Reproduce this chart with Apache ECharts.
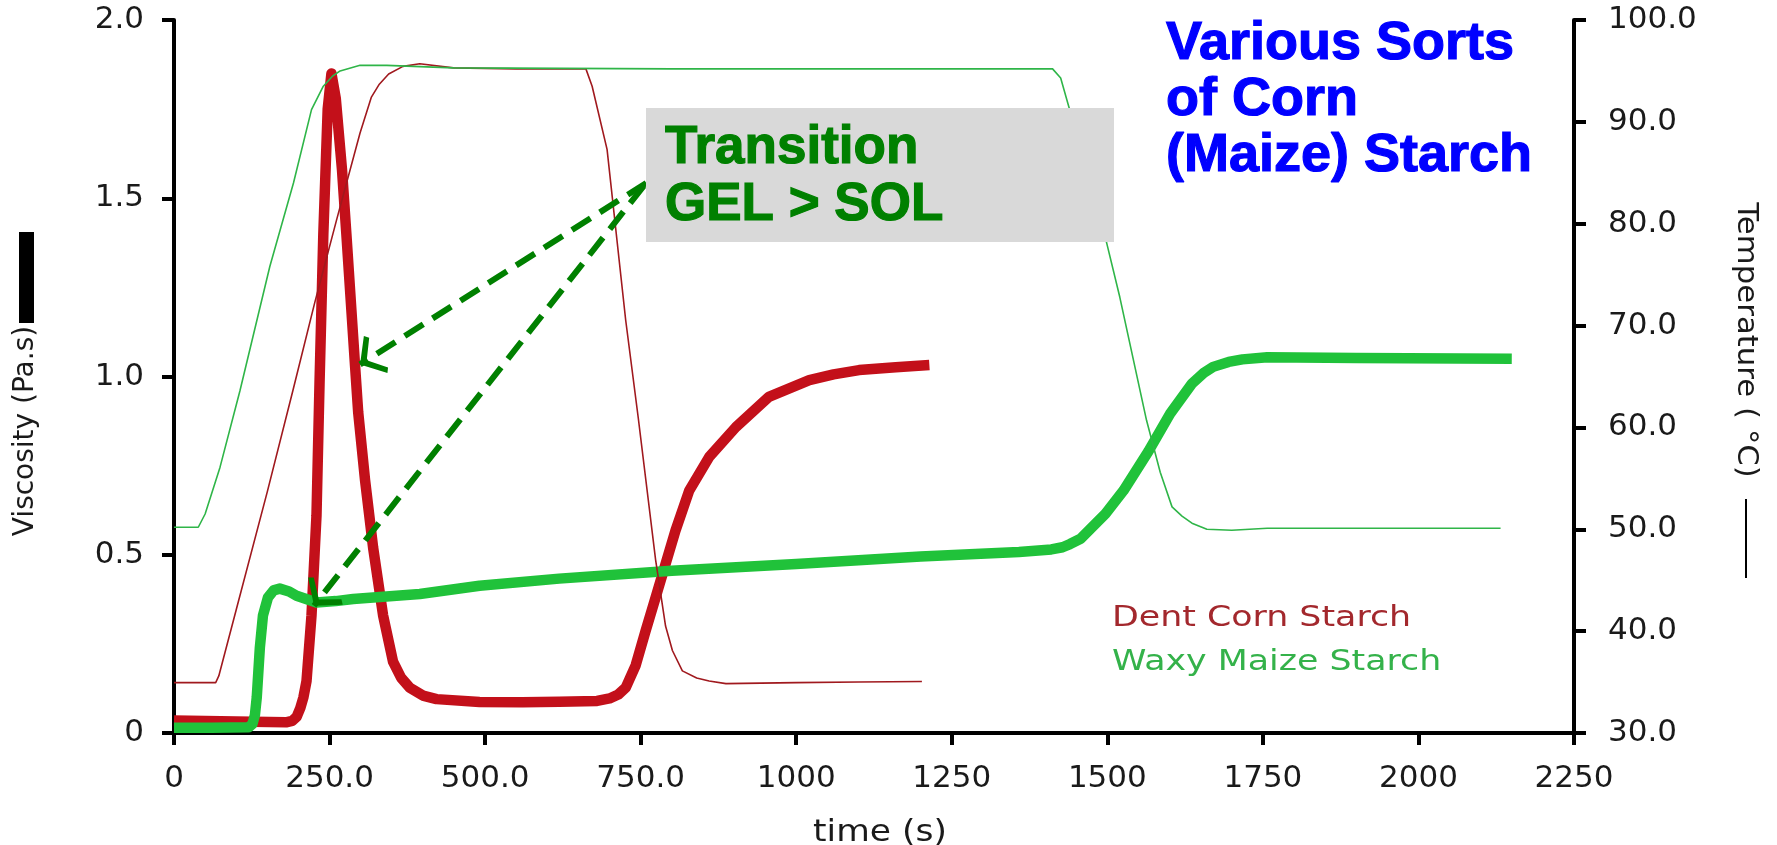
<!DOCTYPE html>
<html>
<head>
<meta charset="utf-8">
<script src="https://cdn.jsdelivr.net/npm/echarts@6/dist/echarts.min.js"></script>
<style>
  html, body { margin: 0; padding: 0; background: #fff; }
  #chart { width: 1777px; height: 845px; }
</style>
</head>
<body>
<div id="chart"></div>
<script>
  // viscosity (Pa.s) - thick lines, left axis
  var dentViscT = [0, 100, 180, 190, 197, 203, 208, 213, 221, 229, 234, 240, 247, 253, 260, 270, 277, 291, 296, 307, 320, 336, 352, 365, 379, 400, 422, 491, 560, 619, 680, 700, 714, 726, 742, 758, 774, 790, 806, 828, 860, 903, 956, 1021, 1060, 1101, 1160, 1214]
  var dentVisc = [0.035, 0.032, 0.030, 0.034, 0.045, 0.07, 0.10, 0.146, 0.33, 0.61, 0.99, 1.40, 1.75, 1.85, 1.78, 1.58, 1.40, 1.03, 0.90, 0.71, 0.52, 0.33, 0.20, 0.155, 0.127, 0.105, 0.095, 0.087, 0.086, 0.088, 0.09, 0.097, 0.108, 0.127, 0.19, 0.287, 0.38, 0.474, 0.568, 0.68, 0.774, 0.858, 0.943, 0.99, 1.006, 1.018, 1.026, 1.032]
  var waxyViscT = [0, 60, 120, 126, 130, 133, 138, 143, 151, 160, 170, 185, 197, 229, 260, 288, 395, 491, 619, 800, 1000, 1200, 1358, 1410, 1428, 1440, 1457, 1497, 1526, 1566, 1601, 1636, 1655, 1670, 1695, 1717, 1757, 1900, 2150]
  var waxyVisc = [0.015, 0.015, 0.016, 0.025, 0.05, 0.10, 0.24, 0.33, 0.38, 0.40, 0.405, 0.397, 0.385, 0.366, 0.37, 0.376, 0.39, 0.413, 0.433, 0.455, 0.474, 0.495, 0.508, 0.515, 0.521, 0.53, 0.545, 0.615, 0.68, 0.79, 0.896, 0.98, 1.01, 1.027, 1.041, 1.048, 1.054, 1.052, 1.05]

  // temperature (°C) - thin lines, right axis
  var dentTempT = [0, 67, 72, 100, 150, 191, 226, 261, 299, 317, 330, 345, 368, 395, 449, 550, 662, 672, 696, 726, 746, 774, 790, 801, 817, 840, 860, 887, 1000, 1100, 1202]
  var dentTemp = [34.95, 34.95, 35.6, 42.1, 53.7, 63.6, 72.2, 80.3, 88.9, 92.4, 93.7, 94.7, 95.45, 95.7, 95.3, 95.2, 95.2, 93.5, 87.3, 70.5, 61, 47, 40.5, 38.1, 36.1, 35.4, 35.1, 34.85, 34.95, 35.0, 35.05]
  var waxyTempT = [0, 39, 50, 74, 106, 154, 192, 221, 240, 255, 267, 299, 342, 449, 800, 1200, 1412, 1425, 1438, 1470, 1499, 1520, 1563, 1585, 1604, 1620, 1636, 1660, 1700, 1757, 2132]
  var waxyTemp = [50.2, 50.2, 51.5, 56.1, 63.6, 75.8, 84.0, 91.2, 93.5, 94.5, 95.0, 95.55, 95.55, 95.3, 95.2, 95.2, 95.2, 94.3, 91.5, 84.5, 78.1, 72.8, 60.7, 55.6, 52.2, 51.3, 50.6, 50.0, 49.9, 50.1, 50.1]

  var xTickLabels = ['0', '250.0', '500.0', '750.0', '1000', '1250', '1500', '1750', '2000', '2250']
  var viscTickLabels = ['0', '0.5', '1.0', '1.5', '2.0']
  var tempTickLabels = ['30.0', '40.0', '50.0', '60.0', '70.0', '80.0', '90.0', '100.0']

  // arrows: [time, viscosity] start -> end
  var arrowFrom = [[759, 1.543], [755, 1.535]]
  var arrowTo = [[299, 1.034], [225, 0.357]]

  function zip(xs, ys) {
    return xs.map(function(x, i) { return [x, ys[i]] })
  }

  var labelFont = 'Century Gothic, "DejaVu Sans", sans-serif'
  // open chevron, tip sits at the middle of the box so it lands on the end point
  var chevron = 'path://M50,50 L100,92 L90,100 L50,68 L10,100 L0,92 Z M49.9,0 L50.1,0 L50,0.2 Z'

  var myChart = echarts.init(document.getElementById('chart'))
  myChart.setOption({
    animation: false,
    grid: {
      left: 174,
      right: 203,
      top: 20,
      bottom: 112
    },
    xAxis: {
      type: 'value',
      min: 0,
      max: 2250,
      interval: 250,
      splitLine: { show: false },
      axisLine: { lineStyle: { color: '#000', width: 4 } },
      axisTick: { inside: false, length: 12, lineStyle: { color: '#000', width: 4 } },
      axisLabel: {
        margin: 30,
        color: '#1a1a1a',
        fontSize: 31,
        fontFamily: labelFont,
        formatter: function(v) { return xTickLabels[Math.round(v / 250)] }
      }
    },
    yAxis: [{
      type: 'value',
      min: 0,
      max: 2,
      interval: 0.5,
      position: 'left',
      splitLine: { show: false },
      axisLine: { show: true, lineStyle: { color: '#000', width: 4 } },
      axisTick: { show: true, inside: false, length: 12, lineStyle: { color: '#000', width: 4 } },
      axisLabel: {
        margin: 30,
        color: '#1a1a1a',
        fontSize: 31,
        fontFamily: labelFont,
        formatter: function(v) { return viscTickLabels[Math.round(v / 0.5)] }
      }
    }, {
      type: 'value',
      min: 30,
      max: 100,
      interval: 10,
      position: 'right',
      splitLine: { show: false },
      axisLine: { show: true, lineStyle: { color: '#000', width: 4 } },
      axisTick: { show: true, inside: false, length: 12, lineStyle: { color: '#000', width: 4 } },
      axisLabel: {
        margin: 34,
        color: '#1a1a1a',
        fontSize: 31,
        fontFamily: labelFont,
        formatter: function(v) { return tempTickLabels[Math.round((v - 30) / 10)] }
      }
    }],
    series: [{
      name: 'Dent Corn Starch viscosity',
      type: 'line',
      yAxisIndex: 0,
      showSymbol: false,
      lineStyle: { color: '#c3101a', width: 10.5, join: 'round' },
      data: zip(dentViscT, dentVisc),
      z: 2,
      // gel > sol arrows
      markLine: {
        silent: true,
        symbol: ['none', chevron],
        symbolSize: [44, 44],
        label: { show: false },
        lineStyle: { color: '#008000', width: 6, type: [22, 11] },
        data: arrowFrom.map(function(f, i) {
          return [{ coord: f }, { coord: arrowTo[i] }]
        }),
        z: 10
      }
    }, {
      name: 'Waxy Maize Starch viscosity',
      type: 'line',
      yAxisIndex: 0,
      showSymbol: false,
      lineStyle: { color: '#20c23a', width: 10.5, join: 'round' },
      data: zip(waxyViscT, waxyVisc),
      z: 3
    }, {
      name: 'Dent Corn Starch temperature',
      type: 'line',
      yAxisIndex: 1,
      showSymbol: false,
      lineStyle: { color: '#a0191e', width: 1.6 },
      data: zip(dentTempT, dentTemp),
      z: 4
    }, {
      name: 'Waxy Maize Starch temperature',
      type: 'line',
      yAxisIndex: 1,
      showSymbol: false,
      lineStyle: { color: '#2fb548', width: 1.6 },
      data: zip(waxyTempT, waxyTemp),
      z: 5
    }],
    graphic: [
      // left axis title with thick line key
      {
        type: 'rect', z: 100,
        shape: { x: 19, y: 232, width: 15, height: 91 },
        style: { fill: '#000' }
      },
      {
        type: 'text', z: 100, x: 26, y: 431, rotation: Math.PI / 2,
        style: { text: 'Viscosity (Pa.s)', font: '28px ' + labelFont, fill: '#1a1a1a', align: 'center', verticalAlign: 'middle' }
      },
      // right axis title with thin line key
      {
        type: 'text', z: 100, x: 1745, y: 340, rotation: -Math.PI / 2, scaleX: 1.1,
        style: { text: 'Temperature ( °C)', font: '28px ' + labelFont, fill: '#1a1a1a', align: 'center', verticalAlign: 'middle' }
      },
      {
        type: 'line', z: 100,
        shape: { x1: 1746, y1: 499, x2: 1746, y2: 578 },
        style: { stroke: '#000', lineWidth: 2 }
      },
      // x axis title
      {
        type: 'text', z: 100, x: 880, y: 833, scaleX: 1.15,
        style: { text: 'time (s)', font: '30px ' + labelFont, fill: '#1a1a1a', align: 'center', verticalAlign: 'middle' }
      },
      // annotation box
      {
        type: 'rect', z: 100,
        shape: { x: 646, y: 108, width: 468, height: 134 },
        style: { fill: '#d9d9d9' }
      },
      {
        type: 'text', z: 101, x: 665, y: 120,
        style: { text: 'Transition\nGEL > SOL', font: 'bold 53px "Liberation Sans", Arial, sans-serif', lineHeight: 57, fill: '#008000', stroke: '#008000', lineWidth: 1.2, align: 'left', verticalAlign: 'top' }
      },
      // title
      {
        type: 'text', z: 100, x: 1166, y: 16,
        style: { text: 'Various Sorts\nof Corn\n(Maize) Starch', font: 'bold 54px "Liberation Sans", Arial, sans-serif', lineHeight: 56, fill: '#0000ff', stroke: '#0000ff', lineWidth: 1.2, align: 'left', verticalAlign: 'top' }
      },
      // legend texts
      {
        type: 'text', z: 100, x: 1112, y: 618, scaleX: 1.2,
        style: { text: 'Dent Corn Starch', font: '29px ' + labelFont, fill: '#a3282d', align: 'left', verticalAlign: 'middle' }
      },
      {
        type: 'text', z: 100, x: 1112, y: 662, scaleX: 1.2,
        style: { text: 'Waxy Maize Starch', font: '29px ' + labelFont, fill: '#34b24a', align: 'left', verticalAlign: 'middle' }
      }
    ]
  })

  window.addEventListener('resize', function() {
    myChart.resize()
  })
</script>
</body>
</html>
